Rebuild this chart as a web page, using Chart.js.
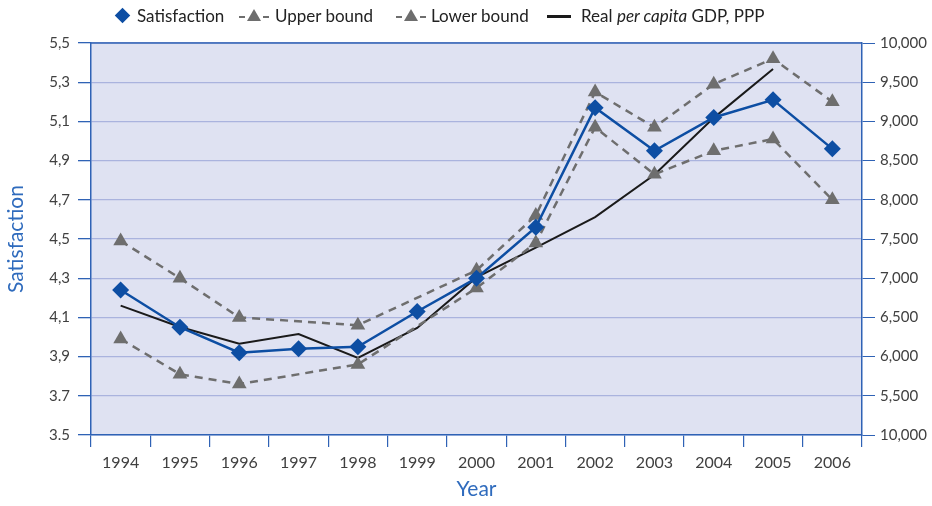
<!DOCTYPE html>
<html>
<head>
<meta charset="utf-8">
<script src="https://cdn.jsdelivr.net/npm/chart.js@4/dist/chart.umd.min.js"></script>
<style>
  html, body { margin: 0; padding: 0; background: #ffffff; }
  #wrap { position: relative; width: 932px; height: 506px; }
  canvas { position: absolute; left: 0; top: 0; }
  .lg { position: absolute; top: 5px; height: 22px; font-family: Lato, 'Open Sans', sans-serif; font-size: 17px; color: #222; line-height: 22px; white-space: nowrap; }
  .dia { position: absolute; top: 10px; width: 11px; height: 11px; background: #0d4ea3; transform: rotate(45deg); }
  .dash { position: absolute; top: 16px; width: 6px; height: 2px; background: #6e6e6e; }
  .tri { position: absolute; top: 9px; width: 0; height: 0; border-left: 7px solid transparent; border-right: 7px solid transparent; border-bottom: 12px solid #6e6e6e; }
  .blk { position: absolute; top: 15px; width: 24px; height: 3px; background: #1a1a1a; }
</style>
</head>
<body>
<div id="wrap">
  <canvas id="c" width="932" height="506"></canvas>
  <div class="dia" style="left:117px"></div>
  <div class="lg" style="left:137px">Satisfaction</div>
  <div class="dash" style="left:239px"></div><div class="tri" style="left:247px"></div><div class="dash" style="left:263px"></div>
  <div class="lg" style="left:275px">Upper bound</div>
  <div class="dash" style="left:396px"></div><div class="tri" style="left:404px"></div><div class="dash" style="left:420px"></div>
  <div class="lg" style="left:431px">Lower bound</div>
  <div class="blk" style="left:547px"></div>
  <div class="lg" style="left:581px">Real <i>per capita</i> GDP, PPP</div>
</div>
<script>
const years = ['1994','1995','1996','1997','1998','1999','2000','2001','2002','2003','2004','2005','2006'];
const satisfaction = [4.24, 4.05, 3.92, 3.94, 3.95, 4.13, 4.30, 4.56, 5.17, 4.95, 5.12, 5.21, 4.96];
const upperBound   = [4.49, 4.30, 4.10, null, 4.06, null, 4.34, 4.62, 5.25, 5.07, 5.29, 5.42, 5.20];
const lowerBound   = [3.99, 3.81, 3.76, null, 3.86, null, 4.25, 4.48, 5.07, 4.83, 4.95, 5.01, 4.70];
const gdp          = [6650, 6378, 6165, 6288, 5982, 6365, 7010, 7390, 7780, 8320, 9045, 9668, null];
const leftTicks  = [3.5, 3.7, 3.9, 4.1, 4.3, 4.5, 4.7, 4.9, 5.1, 5.3, 5.5];
const leftTickLabels  = ['3.5', '3.7', '3,9', '4,1', '4,3', '4,5', '4,7', '4,9', '5,1', '5,3', '5,5'];
const rightTicks = [5000, 5500, 6000, 6500, 7000, 7500, 8000, 8500, 9000, 9500, 10000];
const rightTickLabels = ['10,000', '5,500', '6,000', '6,500', '7,000', '7,500', '8,000', '8,500', '9,000', '9,500', '10,000'];

const AXIS_BLUE = '#2f62b5';
const GRID = '#aab3de';
const FONT = 'Lato, "Open Sans", sans-serif';

const bgPlugin = {
  id: 'bg',
  beforeDraw(chart) {
    const a = chart.chartArea, ctx = chart.ctx;
    ctx.save();
    ctx.fillStyle = '#dfe2f2';
    ctx.fillRect(a.left, a.top, a.right - a.left, a.bottom - a.top);
    ctx.restore();
  },
  afterDraw(chart) {
    const a = chart.chartArea, ctx = chart.ctx;
    ctx.save();
    ctx.strokeStyle = AXIS_BLUE;
    ctx.lineWidth = 1.5;
    ctx.beginPath();
    ctx.moveTo(a.left, a.top);
    ctx.lineTo(a.right, a.top);
    ctx.stroke();
    ctx.restore();
  }
};

new Chart(document.getElementById('c'), {
  type: 'line',
  data: {
    labels: years,
    datasets: [
      { label: 'Real per capita GDP, PPP', data: gdp, yAxisID: 'y2', borderColor: '#1a1a1a', borderWidth: 2, pointRadius: 0, tension: 0, order: 4 },
      { label: 'Lower bound', data: lowerBound, yAxisID: 'y', borderColor: '#6e6e6e', borderWidth: 2.5, borderDash: [8, 6], pointStyle: 'triangle', pointRadius: 8.5, pointBackgroundColor: '#6e6e6e', pointBorderColor: '#6e6e6e', pointBorderWidth: 0, spanGaps: true, order: 3 },
      { label: 'Upper bound', data: upperBound, yAxisID: 'y', borderColor: '#6e6e6e', borderWidth: 2.5, borderDash: [8, 6], pointStyle: 'triangle', pointRadius: 8.5, pointBackgroundColor: '#6e6e6e', pointBorderColor: '#6e6e6e', pointBorderWidth: 0, spanGaps: true, order: 2 },
      { label: 'Satisfaction', data: satisfaction, yAxisID: 'y', borderColor: '#0d4ea3', borderWidth: 2.5, pointStyle: 'rectRot', pointRadius: 8.5, pointBackgroundColor: '#0d4ea3', pointBorderColor: '#0d4ea3', pointBorderWidth: 0, order: 1 }
    ]
  },
  options: {
    responsive: false,
    animation: false,
    layout: { padding: { top: 43, right: 0, bottom: 0, left: 0 } },
    plugins: { legend: { display: false }, tooltip: { enabled: false } },
    scales: {
      x: {
        offset: true,
        grid: { offset: true, drawOnChartArea: false, tickLength: 12, tickColor: AXIS_BLUE, lineWidth: 1.2 },
        border: { color: AXIS_BLUE, width: 1.5 },
        ticks: { color: '#404040', font: { family: FONT, size: 16 }, padding: 6, maxRotation: 0, autoSkip: false },
        title: { display: true, text: 'Year', color: '#2f6bbd', font: { family: FONT, size: 21 }, padding: { top: 4 } },
        afterFit(s) { s.height = 71; }
      },
      y: {
        position: 'left',
        min: 3.5, max: 5.5,
        afterBuildTicks(s) { s.ticks = leftTicks.map(v => ({ value: v })); },
        ticks: { color: '#404040', font: { family: FONT, size: 15 }, padding: 8,
                 callback(v) { const i = leftTicks.findIndex(t => Math.abs(t - v) < 1e-6); return i >= 0 ? leftTickLabels[i] : ''; } },
        grid: { color: GRID, lineWidth: 1.3, tickLength: 13, tickColor: AXIS_BLUE },
        border: { color: AXIS_BLUE, width: 1.5 },
        title: { display: true, text: 'Satisfaction', color: '#2f6bbd', font: { family: FONT, size: 21 }, padding: { bottom: 0 } },
        afterFit(s) { s.width = 91; }
      },
      y2: {
        position: 'right',
        min: 5000, max: 10000,
        afterBuildTicks(s) { s.ticks = rightTicks.map(v => ({ value: v })); },
        ticks: { color: '#404040', font: { family: FONT, size: 15 }, padding: 5,
                 callback(v) { const i = rightTicks.indexOf(v); return i >= 0 ? rightTickLabels[i] : ''; } },
        grid: { drawOnChartArea: false, tickLength: 13, tickColor: AXIS_BLUE },
        border: { color: AXIS_BLUE, width: 1.5 },
        afterFit(s) { s.width = 70; }
      }
    }
  },
  plugins: [bgPlugin]
});
</script>
</body>
</html>
